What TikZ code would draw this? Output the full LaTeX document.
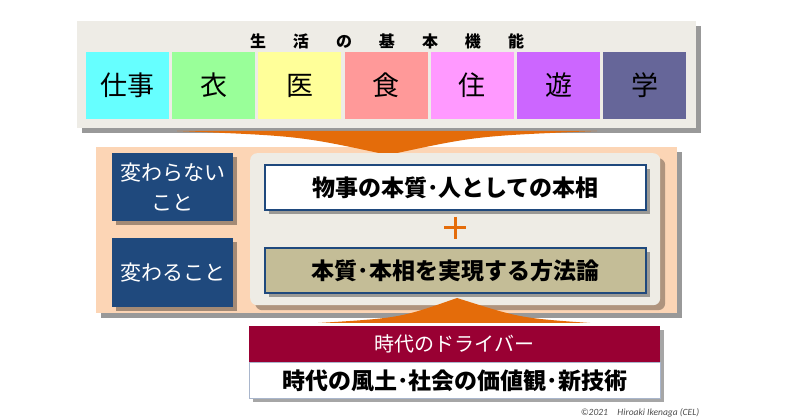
\documentclass[tikz,border=0pt]{standalone}
\usepackage{fontspec}
\newfontfamily\jp{Noto Sans CJK JP}
\newfontfamily\calfont{Carlito}
\usetikzlibrary{shadows}
\definecolor{panelgray}{HTML}{EEECE6}
\definecolor{innergray}{HTML}{EEECE5}
\definecolor{cA}{HTML}{66FFFF}
\definecolor{cB}{HTML}{99FF99}
\definecolor{cC}{HTML}{FFFF99}
\definecolor{cD}{HTML}{FF9999}
\definecolor{cE}{HTML}{FF99FF}
\definecolor{cF}{HTML}{CC66FF}
\definecolor{cG}{HTML}{666699}
\definecolor{orangeA}{HTML}{E46C0A}
\definecolor{peach}{HTML}{FCD5B5}
\definecolor{navy}{HTML}{1F497D}
\definecolor{tan}{HTML}{C4BD97}
\definecolor{wine}{HTML}{990033}
\definecolor{steel}{HTML}{A9B6CC}
\begin{document}
\begin{tikzpicture}[x=1pt,y=-1pt,font=\jp,
  shd/.style={drop shadow={shadow xshift=5pt,shadow yshift=-5pt,fill=black,opacity=.4}},
  shds/.style={drop shadow={shadow xshift=4pt,shadow yshift=-4pt,fill=black,opacity=.35}},
  box/.style={rectangle,inner sep=0pt,anchor=north west},
  cbox/.style={rectangle,inner sep=0pt,minimum width=83pt,minimum height=67pt,font=\jp\fontsize{27}{27}\selectfont},
  bluebox/.style={box,fill=navy,text=white,minimum width=121pt,font=\jp\fontsize{21}{30}\selectfont,align=center,shds},
  mainbox/.style={box,draw=navy,line width=2pt,minimum width=381pt,minimum height=45pt,font=\jp\bfseries\fontsize{23}{23}\selectfont,shds}]
\useasboundingbox (0,0) rectangle (800,419);
\fill[white] (0,0) rectangle (800,419);

% top panel
\node[box,fill=panelgray,minimum width=619pt,minimum height=107pt,shd] (top) at (77,21) {};
\node (title) at (387,41) {\bfseries\fontsize{16}{16}\selectfont 生\hspace{27pt}活\hspace{27pt}の\hspace{27pt}基\hspace{27pt}本\hspace{27pt}機\hspace{27pt}能};
\foreach \i/\c/\t in {0/cA/仕事,1/cB/衣,2/cC/医,3/cD/食,4/cE/住,5/cF/遊,6/cG/学}{
  \node[cbox,fill=\c] (b\i) at ({86+\i*86.2+41.5},85.5) {\t};
}

% middle panel
\node[box,fill=peach,minimum width=581pt,minimum height=166pt,shd] (mid) at (96,147) {};
\fill[orangeA] (177,131) .. controls (300,136) .. (388,155) .. controls (476,136) .. (597,131) -- cycle;
\node[box,fill=innergray,rounded corners=7pt,minimum width=410pt,minimum height=152pt,
      drop shadow={shadow xshift=5pt,shadow yshift=-5pt,fill=black,opacity=.3}] (inner) at (250,153) {};
\node[bluebox,minimum height=68pt] (keep) at (112,153) {変わらない\\こと};
\node[bluebox,minimum height=69pt] (change) at (112,238) {変わること};
\node[mainbox,fill=white] (essence) at (264,164) {物事の本質･人としての本相};
\node[mainbox,fill=tan] (method) at (264,247) {本質･本相を実現する方法論};
\coordinate (plus) at (455,228);
\draw[orangeA,line width=3pt] ([xshift=-11pt]plus) -- ([xshift=11pt]plus);
\draw[orangeA,line width=3pt] ([yshift=11pt]plus) -- ([yshift=-11pt]plus);

% bottom
\fill[orangeA] (318,323) .. controls (400,318) .. (457,298) .. controls (520,318) .. (590,323) -- cycle;
\node[box,fill=white,minimum width=411pt,minimum height=72pt,shds] (drvbg) at (249,326) {};
\node[box,fill=wine,minimum width=411pt,minimum height=36pt,text=white,font=\jp\fontsize{20}{20}\selectfont] (driver) at (249,326) {時代のドライバー};
\node[box,fill=white,draw=steel,line width=0.8pt,minimum width=411pt,minimum height=36pt,font=\jp\bfseries\fontsize{23}{23}\selectfont] (factors) at (249,362) {時代の風土･社会の価値観･新技術};

\node[text=black!70,font=\calfont\itshape\fontsize{9.5}{10}\selectfont] (copy) at (640,413) {©2021\quad Hiroaki Ikenaga (CEL)};
\end{tikzpicture}
\end{document}
